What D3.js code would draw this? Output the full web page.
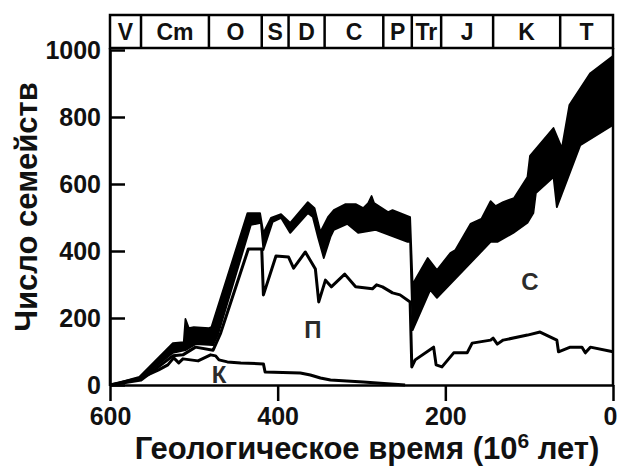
<!DOCTYPE html>
<html><head><meta charset="utf-8">
<script src="https://cdn.jsdelivr.net/npm/d3@7"></script>
<style>
body{margin:0;background:#fff}
text{font-family:"Liberation Sans",Arial,sans-serif;font-weight:bold;fill:#111}
</style>
</head><body><svg id="c" width="618" height="470"></svg>
<script>
const periodNames = ["V","Cm","O","S","D","C","P","Tr","J","K","T"];
const periodBounds = [600,563,482,419,387,344,274,240,205,143,63,0];
const xTicks = [600,400,200,0];
const yTicks = [0,200,400,600,800,1000];

// Кембрийская фауна (К)
const kAges   = [600,563,542,531,524,518,513,495,480,474,470,460,444,417,415,373,361,349,337,298,248];
const kValues = [0,21,45,60,81,66,78,72,90,87,75,69,66,63,39,36,30,21,15,9,0];

// Палеозойская фауна, накопленная (К+П)
const pAges   = [600,563,525,513,498,477,468,435,419,417,402,387,381,367,355,351,343,336,320,307,287,282,275,263,254,242,240,236,214,211,204,190,174,168,146,143,138,131,102,87,67,65,51,37,33,27,0];
const pValues = [0,15,87,90,113,104,155,406,406,269,385,382,349,397,346,248,313,293,331,293,287,299,293,275,269,248,54,75,113,60,54,96,96,125,134,140,122,134,149,158,134,99,113,113,96,113,99];

// Нижняя граница чёрной полосы (К+П+С)
const lowAges   = [600,565,525,510,498,477,471,432,420,417,406,396,385,364,358,352,345,337,333,317,304,283,245,242,239,218,210,146,138,119,102,95,92,71,67,39,0];
const lowValues = [0,15,96,104,122,119,152,478,484,403,487,499,454,513,501,442,379,442,463,481,454,463,427,427,164,284,260,427,427,454,484,513,573,621,531,716,776];

// Верхняя граница чёрной полосы (всего)
const highAges   = [600,565,525,512,510,506,500,482,479,436,421,417,408,396,385,364,356,349,340,333,319,307,298,292,288,285,268,263,242,239,221,210,194,188,170,157,146,140,131,118,102,99,71,61,52,27,0];
const highValues = [0,24,125,128,197,170,173,170,173,513,513,454,499,510,484,546,528,457,501,522,540,540,528,543,564,543,516,522,501,301,379,343,394,403,481,496,549,534,546,558,621,684,767,707,836,931,982];

const svg = d3.select("#c");
const x = d3.scaleLinear().domain([600,0]).range([110,613]);
const y = d3.scaleLinear().domain([0,1000]).range([385,50]);
const zip = (a,v) => a.map((d,i)=>[d,v[i]]);
const line = d3.line().x(d=>x(d[0])).y(d=>y(d[1]));

// black band
const bandHigh = zip(highAges, highValues);
const bandLow = zip(lowAges, lowValues).reverse();
svg.append("path").attr("d", line(bandHigh.concat(bandLow)) + "Z")
  .attr("fill","#000").attr("stroke","#000").attr("stroke-width",1.8).attr("stroke-linejoin","round");

// lines
[[pAges,pValues],[kAges,kValues]].forEach(([a,v])=>{
  svg.append("path").attr("d", line(zip(a,v))).attr("fill","none")
    .attr("stroke","#000").attr("stroke-width",3).attr("stroke-linejoin","round");
});

// region labels
const lab = [["К",470,32],["П",358,165],["С",99,308]];
lab.forEach(([t,a,v])=>{
  svg.append("text").attr("x",x(a)).attr("y",y(v)).attr("text-anchor","middle")
    .attr("dy","0.36em").style("font-size","24px").style("fill","#2b2b2b").text(t);
});

// axes
const gx = svg.append("g").attr("transform","translate(0,385)")
  .call(d3.axisBottom(x).tickValues(xTicks).tickSize(16).tickSizeOuter(0).tickPadding(6).tickFormat(d3.format("d")));
const gy = svg.append("g").attr("transform","translate(110,0)")
  .call(d3.axisLeft(y).tickValues(yTicks).tickSize(-15).tickSizeOuter(0).tickPadding(9).tickFormat(d3.format("d")));
[gx,gy].forEach(g=>{
  g.selectAll("path,line").attr("stroke","#000").attr("stroke-width",2.5);
  g.selectAll("text").style("font-size","25px").style("font-family",'"Liberation Sans",Arial,sans-serif').style("font-weight","bold").attr("fill","#111");
});
gx.selectAll(".tick").filter(d=>d===0).select("text").attr("dx",-3);
// frame right & left extension
svg.append("line").attr("x1",613).attr("x2",613).attr("y1",48).attr("y2",386).attr("stroke","#000").attr("stroke-width",2.5);
svg.append("line").attr("x1",110).attr("x2",110).attr("y1",48).attr("y2",386).attr("stroke","#000").attr("stroke-width",2.5);

// period band
const bandTop = 15, bandBot = 48;
svg.append("rect").attr("x",x(600)).attr("y",bandTop).attr("width",x(0)-x(600)).attr("height",bandBot-bandTop)
  .attr("fill","none").attr("stroke","#000").attr("stroke-width",2.5);
periodBounds.slice(1,-1).forEach(b=>{
  svg.append("line").attr("x1",x(b)).attr("x2",x(b)).attr("y1",bandTop).attr("y2",bandBot).attr("stroke","#000").attr("stroke-width",2.5);
});
periodNames.forEach((n,i)=>{
  svg.append("text").attr("x",(x(periodBounds[i])+x(periodBounds[i+1]))/2).attr("y",(bandTop+bandBot)/2)
    .attr("dy","0.36em").attr("text-anchor","middle").style("font-size","23px").text(n);
});

// titles
const xt = svg.append("text").attr("x",367).attr("y",459).attr("text-anchor","middle").style("font-size","31px");
xt.append("tspan").text("Геологическое время (10");
xt.append("tspan").attr("dy",-11).style("font-size","21px").text("6");
xt.append("tspan").attr("dy",11).text(" лет)");
svg.append("text").attr("transform","translate(37,207) rotate(-90)").attr("text-anchor","middle")
  .style("font-size","31px").text("Число семейств");
</script></body></html>
